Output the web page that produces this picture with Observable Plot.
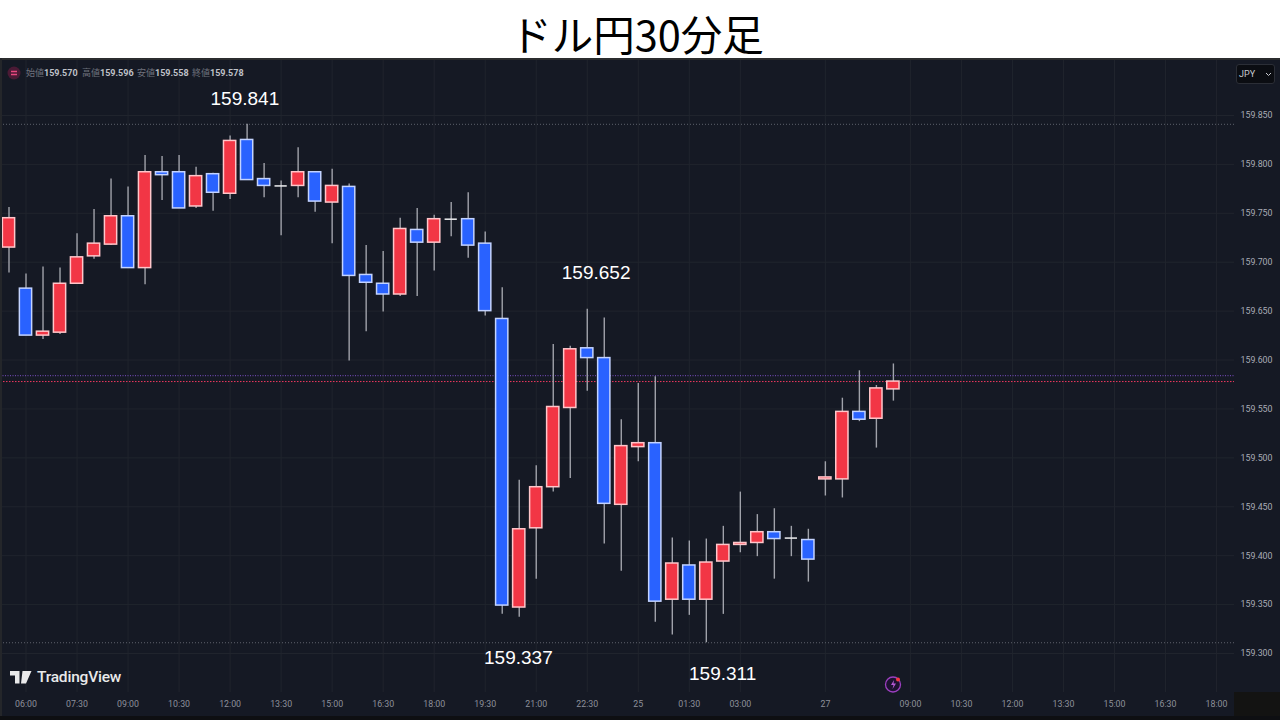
<!DOCTYPE html>
<html lang="ja">
<head>
<meta charset="utf-8">
<script src="https://cdn.jsdelivr.net/npm/d3@7"></script>
<script src="https://cdn.jsdelivr.net/npm/@observablehq/plot@0.6"></script>
<style>
html,body{margin:0;padding:0;background:#fff;}
#wrap{position:relative;width:1280px;height:720px;overflow:hidden;background:#fff;}
#title{height:58px;text-align:center;font:400 41.500px/67px "Noto Sans CJK JP",sans-serif;color:#000;white-space:nowrap;margin-left:-6px;}
#chart svg{display:block;}
.ov{position:absolute;}
#legend{left:26px;top:67px;font:700 9px/12px Roboto,sans-serif;color:#bfc1c8;white-space:nowrap;}
#legend span{position:absolute;top:0;}
#legend i{font-style:normal;font-weight:400;color:#6f727d;font-family:"Noto Sans CJK JP",sans-serif;font-size:9px;}
#jpy{left:1236px;top:64px;height:18px;background:#0b0d12;border:1px solid #2b2e36;border-radius:3px;color:#c9cbd1;font:400 9px/18px Roboto,sans-serif;padding-left:2px;width:35px;}
#tv{left:37px;top:667px;font:500 15.500px/20px Roboto,sans-serif;color:#e9e9ea;letter-spacing:-.2px;}
</style>
</head>
<body>
<div id="wrap">
  <div id="title">ドル円30分足</div>
  <div id="chart"></div>
  <div class="ov" style="left:0;top:58px;width:1280px;height:2px;background:#2b2c2e"></div>
  <div class="ov" style="left:0;top:58px;width:2px;height:662px;background:#24262a"></div>
  <div class="ov" style="left:1234px;top:692px;width:46px;height:24px;background:#131312"></div>
  <div class="ov" style="left:0;top:716px;width:1280px;height:4px;background:#0e0f12"></div>
  <svg class="ov" style="left:7px;top:66px" width="14" height="14"><circle cx="7" cy="7" r="6.500" fill="#4b1a35"/><path d="M4 5.500h6M4 8.500h6" stroke="#e8487f" stroke-width="1.300"/></svg>
  <div class="ov" id="legend"><span style="left:0"><i>始値</i>159.570</span><span style="left:56px"><i>高値</i>159.596</span><span style="left:111px"><i>安値</i>159.558</span><span style="left:166px"><i>終値</i>159.578</span></div>
  <div class="ov" id="jpy">JPY<svg style="position:absolute;left:28px;top:7px" width="7" height="5"><path d="M1 1l2.500 2.500L6 1" fill="none" stroke="#c9cbd1" stroke-width="1"/></svg></div>
  <svg class="ov" style="left:10px;top:671px" width="22" height="13"><path d="M0 0h9.500v12.500H5V4.500H0zM12.500 0h9L16 12.500h-5z" fill="#e9e9ea"/></svg>
  <div class="ov" id="tv">TradingView</div>
  <svg class="ov" style="left:884px;top:675px" width="19" height="19"><circle cx="9" cy="9.500" r="7.500" fill="#1d1230" stroke="#9c3fc0" stroke-width="1.300"/><path d="M10 5L7 10h2.500L8.500 14l3.500-5.500H9.500z" fill="#b65ad6"/><circle cx="14" cy="4.500" r="2" fill="#f23645"/></svg>
</div>
<script>
// Candle values (USD/JPY, 30 minute bars)
const opens  = [159.715,159.673,159.625,159.628,159.678,159.706,159.718,159.747,159.694,159.792,159.792,159.757,159.790,159.770,159.825,159.785,159.778,159.778,159.792,159.761,159.777,159.687,159.678,159.667,159.733,159.720,159.744,159.744,159.719,159.642,159.347,159.428,159.470,159.551,159.612,159.602,159.452,159.511,159.515,159.355,159.390,159.355,159.394,159.411,159.413,159.424,159.418,159.416,159.478,159.478,159.547,159.540,159.570];
const highs  = [159.756,159.688,159.695,159.694,159.729,159.754,159.785,159.777,159.809,159.808,159.809,159.797,159.791,159.829,159.841,159.801,159.783,159.817,159.792,159.795,159.780,159.717,159.711,159.745,159.755,159.748,159.761,159.771,159.731,159.674,159.477,159.492,159.616,159.614,159.652,159.643,159.539,159.576,159.583,159.418,159.415,159.417,159.430,159.465,159.442,159.448,159.430,159.427,159.496,159.561,159.589,159.574,159.596];
const lows   = [159.689,159.625,159.621,159.626,159.678,159.703,159.717,159.694,159.677,159.763,159.755,159.755,159.752,159.764,159.784,159.766,159.727,159.766,159.751,159.719,159.599,159.629,159.649,159.665,159.665,159.691,159.726,159.704,159.645,159.340,159.337,159.376,159.465,159.479,159.568,159.412,159.384,159.496,159.332,159.319,159.339,159.311,159.340,159.403,159.399,159.376,159.399,159.373,159.461,159.459,159.537,159.510,159.558];
const closes = [159.745,159.625,159.629,159.678,159.705,159.719,159.747,159.694,159.792,159.789,159.755,159.788,159.771,159.824,159.784,159.778,159.778,159.792,159.762,159.778,159.686,159.679,159.667,159.734,159.720,159.744,159.744,159.717,159.650,159.349,159.427,159.470,159.552,159.611,159.602,159.453,159.512,159.515,159.353,159.392,159.355,159.393,159.411,159.413,159.424,159.417,159.418,159.396,159.480,159.547,159.539,159.571,159.578];

// Time axis: bar position and label
const timeTicks  = [1,4,7,10,13,16,19,22,25,28,31,34,37,40,43,48,53,56,59,62,65,68,71];
const timeLabels = ["06:00","07:30","09:00","10:30","12:00","13:30","15:00","16:30","18:00","19:30","21:00","22:30","25","01:30","03:00","27","09:00","10:30","12:00","13:30","15:00","16:30","18:00"];
// Price axis
const priceTicks = [159.30,159.35,159.40,159.45,159.50,159.55,159.60,159.65,159.70,159.75,159.80,159.85];
// Price lines
const greyLevels = [159.841,159.311];
const bidLevel = [159.584];
const lastLevel = [159.578];
// Callouts
const calloutLabels = ["159.841","159.652","159.337","159.311"];
const calloutBars   = [13.87,34.52,29.95,41.96];
const calloutPrices = [159.867,159.689,159.296,159.279];

const candles = opens.map((o,i)=>({i,o,h:highs[i],l:lows[i],c:closes[i]}));
const callouts = calloutLabels.map((t,k)=>({t,i:calloutBars[k],v:calloutPrices[k]}));
const halfBody = 0.36;
const bg = "#151924", grid = "#20242d";
const bodyOpts = {x1:d=>d.i-halfBody,x2:d=>d.i+halfBody,y1:"o",y2:"c",strokeWidth:1.5};

const svg = Plot.plot({
  width:1280, height:662,
  marginLeft:0, marginRight:46, marginTop:2, marginBottom:28,
  style:{background:bg,color:"#a9acb5",fontFamily:"Roboto, sans-serif",fontSize:"8.800px",overflow:"hidden"},
  x:{domain:[0,52],range:[8.5,892.9],axis:null},
  y:{domain:[159.30,159.85],range:[595,57],axis:null},
  marks:[
    Plot.gridX(timeTicks,{stroke:grid,strokeOpacity:1,strokeWidth:1}),
    Plot.gridY(priceTicks,{stroke:grid,strokeOpacity:1,strokeWidth:1}),
    Plot.axisX({ticks:timeTicks,tickFormat:d=>timeLabels[timeTicks.indexOf(d)],tickSize:0,tickPadding:8,anchor:"bottom",label:null,fill:"#8d909a"}),
    Plot.axisY({ticks:priceTicks,tickFormat:d3.format(".3f"),tickSize:0,tickPadding:6,anchor:"right",label:null,fill:"#a9acb5"}),
    Plot.ruleY(greyLevels,{y:d=>d,stroke:"#5d616c",strokeWidth:1,strokeDasharray:"1 2"}),
    Plot.ruleY(bidLevel,{y:d=>d,stroke:"#7d4fc8",strokeWidth:1,strokeDasharray:"1 1.500"}),
    Plot.ruleY(lastLevel,{y:d=>d,stroke:"#f0385f",strokeWidth:1,strokeDasharray:"1.500 1.500"}),
    Plot.ruleX(candles,{x:"i",y1:"l",y2:"h",stroke:"#a0a2aa",strokeWidth:1.4}),
    Plot.rect(candles.filter(d=>d.c>d.o),{...bodyOpts,fill:"#f23645",stroke:"#ffc6ca"}),
    Plot.rect(candles.filter(d=>d.c<d.o),{...bodyOpts,fill:"#2962ff",stroke:"#c3d3ff"}),
    Plot.ruleY(candles.filter(d=>d.o===d.c),{
      x1:d=>d.i-halfBody,x2:d=>d.i+halfBody,y:"o",stroke:"#eeeef0",strokeWidth:1.5
    }),
    Plot.text(callouts,{x:"i",y:"v",text:"t",fill:"#ffffff",fontSize:19,fontFamily:"Liberation Sans, Arial, sans-serif"})
  ]
});
document.getElementById("chart").appendChild(svg);
</script>
</body>
</html>
